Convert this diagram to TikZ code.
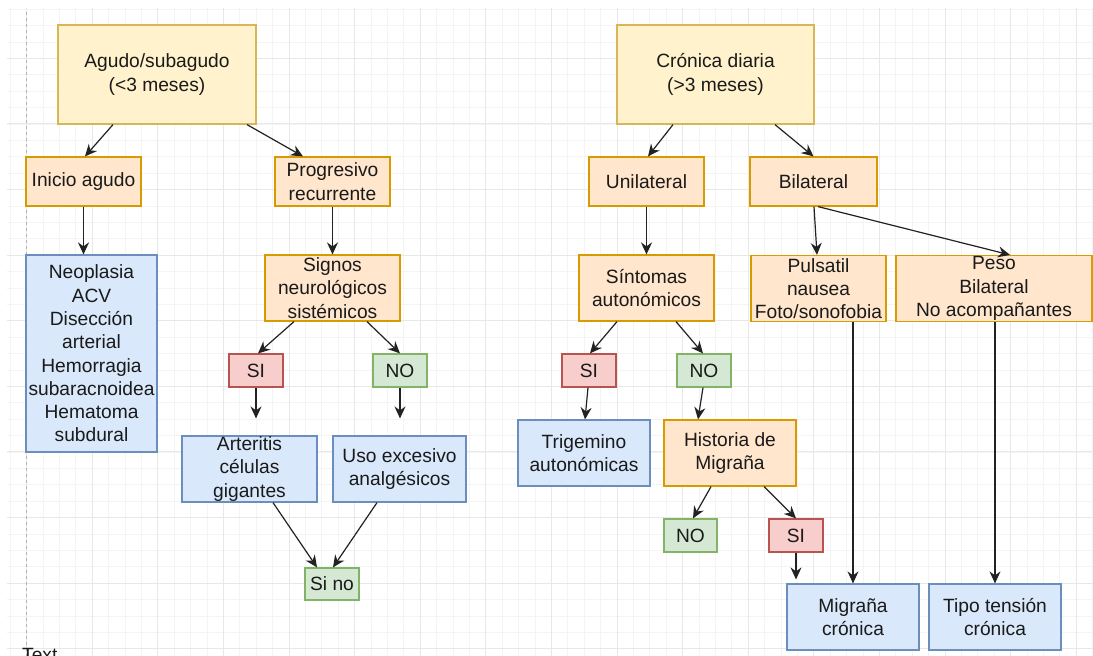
\documentclass[tikz,border=0pt]{standalone}
\usepackage{fontspec}
\setmainfont{Liberation Sans}
\usetikzlibrary{arrows.meta}
\definecolor{yfill}{HTML}{FFF2CC}\definecolor{ystroke}{HTML}{D6B656}
\definecolor{ofill}{HTML}{FFE6CC}\definecolor{ostroke}{HTML}{D79B00}
\definecolor{bfill}{HTML}{DAE8FC}\definecolor{bstroke}{HTML}{6C8EBF}
\definecolor{rfill}{HTML}{F8CECC}\definecolor{rstroke}{HTML}{B85450}
\definecolor{gfill}{HTML}{D5E8D4}\definecolor{gstroke}{HTML}{82B366}
\definecolor{txtc}{HTML}{1A1A1A}
\definecolor{linec}{HTML}{222222}
\definecolor{gminor}{HTML}{F4F4F4}
\definecolor{gmajor}{HTML}{E8E8E8}
\tikzset{
  box/.style={draw, line width=1.2pt, inner sep=0pt, rectangle},
  yel/.style={box, fill=yfill, draw=ystroke},
  ora/.style={box, fill=ofill, draw=ostroke},
  blu/.style={box, fill=bfill, draw=bstroke},
  red/.style={box, fill=rfill, draw=rstroke},
  grn/.style={box, fill=gfill, draw=gstroke},
  txt/.style={font=\fontsize{19.2}{23.3}\selectfont, text=txtc, align=center, inner sep=0pt},
  conn/.style={-{Stealth[length=12pt,width=11pt,inset=4pt]}, line width=1.2pt, draw=linec},
  gridminor/.style={draw=gminor, line width=0.8pt},
  gridmajor/.style={draw=gmajor, line width=0.9pt},
}
\newcommand\bx[7]{%
  \node[#2, minimum width=#5pt, minimum height=#6pt] (#1) at (#3,#4) {};
  \node[txt] (#1t) at (#1.center) {#7};}
\begin{document}
\begin{tikzpicture}[x=1pt,y=-1pt]
\useasboundingbox (0,0) rectangle (1093,656);
\fill[white] (0,0) rectangle (1093,656);
\begin{scope}
\clip (7,8) rectangle (1093,656);
\foreach \i in {-1,...,66} {\draw[gridminor] ({26.6+16.4*\i},8) -- ({26.6+16.4*\i},656);}
\foreach \j in {-3,...,36} {\draw[gridminor] (7,{58.3+16.4*\j}) -- (1093,{58.3+16.4*\j});}
\foreach \i in {0,...,16} {\draw[gridmajor] ({26.6+65.6*\i},8) -- ({26.6+65.6*\i},656);}
\foreach \j in {0,...,9} {\draw[gridmajor] (7,{58.3+65.6*\j}) -- (1093,{58.3+65.6*\j});}
\end{scope}
\draw[dashed, draw=gray!60, line width=0.8pt] (26.6,12) -- (26.6,656);

% left tree
\bx{agudo}{yel}{157}{74.5}{198}{99}{Agudo/subagudo\\(<3 meses)}
\bx{inicio}{ora}{83.5}{181.5}{115}{49}{Inicio agudo}
\bx{prog}{ora}{332.5}{181.5}{115}{49}{Progresivo\\recurrente}
\bx{neo}{blu}{91.5}{353.5}{131}{197}{Neoplasia\\ACV\\Disección\\arterial\\Hemorragia\\subaracnoidea\\Hematoma\\subdural}
\bx{signos}{ora}{332.5}{288}{135}{66}{Signos\\neurológicos\\sistémicos}
\bx{si1}{red}{256}{370.5}{54}{33}{SI}
\bx{no1}{grn}{400}{370.5}{54}{33}{NO}
\bx{art}{blu}{249.5}{469}{135}{66}{Arteritis\\células\\gigantes}
\bx{uso}{blu}{399.5}{469}{133}{66}{Uso excesivo\\analgésicos}
\bx{sino}{grn}{332}{584}{54}{32}{Si no}

% right tree
\bx{cron}{yel}{715.5}{74.5}{197}{99}{Crónica diaria\\(>3 meses)}
\bx{uni}{ora}{646.5}{181.5}{115}{49}{Unilateral}
\bx{bil}{ora}{813.5}{181.5}{127}{49}{Bilateral}
\bx{sint}{ora}{646.5}{288}{135}{66}{Síntomas\\autonómicos}
\bx{puls}{ora}{818.5}{288.5}{135}{66}{Pulsatil\\nausea\\Foto/sonofobia}
\bx{peso}{ora}{994}{288.5}{196}{66}{Peso\\Bilateral\\No acompañantes}
\bx{si2}{red}{589}{370.5}{54}{33}{SI}
\bx{no2}{grn}{704}{370.5}{54}{33}{NO}
\bx{tri}{blu}{584}{453}{132}{66}{Trigemino\\autonómicas}
\bx{hist}{ora}{730}{453}{132}{66}{Historia de\\Migraña}
\bx{no3}{grn}{690.5}{535.5}{53}{33}{NO}
\bx{si3}{red}{796}{535.5}{54}{33}{SI}
\bx{mig}{blu}{853}{617}{132}{66}{Migraña\\crónica}
\bx{tipo}{blu}{995}{617}{132}{66}{Tipo tensión\\crónica}

% free ends
\path (si1.south |- art.north) ++(0,-17) coordinate (si1end);
\path (no1.south |- uso.north) ++(0,-17) coordinate (no1end);
\path (si3.south |- mig.north) ++(0,-4) coordinate (si3end);

% connectors left
\draw[conn] ([xshift=-44pt]agudo.south) -- ([xshift=1.5pt]inicio.north);
\draw[conn] ([xshift=90pt]agudo.south) -- ([xshift=-29.5pt]prog.north);
\draw[conn] (inicio.south) -- (inicio.south |- neo.north);
\draw[conn] (prog.south) -- (signos.north);
\draw[conn] ([xshift=-38.5pt]signos.south) -- ([xshift=2pt]si1.north);
\draw[conn] ([xshift=34.5pt]signos.south) -- (no1.north);
\draw[conn] (si1.south) -- (si1end);
\draw[conn] (no1.south) -- (no1end);
\draw[conn] ([xshift=23.5pt]art.south) -- ([xshift=-15pt]sino.north);
\draw[conn] ([xshift=-22.5pt]uso.south) -- ([xshift=1pt]sino.north);

% connectors right
\draw[conn] ([xshift=-42.5pt]cron.south) -- ([xshift=1.5pt]uni.north);
\draw[conn] ([xshift=59.5pt]cron.south) -- (bil.north);
\draw[conn] (uni.south) -- (sint.north);
\draw[conn] ([xshift=0.5pt]bil.south) -- ([xshift=-1.5pt]puls.north);
\draw[conn] ([xshift=4.5pt]bil.south) -- ([xshift=16pt]peso.north);
\draw[conn] ([xshift=-29.5pt]sint.south) -- ([xshift=1pt]si2.north);
\draw[conn] ([xshift=29.5pt]sint.south) -- ([xshift=-1pt]no2.north);
\draw[conn] ([xshift=-1pt]si2.south) -- ([xshift=1pt]tri.north);
\draw[conn] ([xshift=-1pt]no2.south) -- ([xshift=-32pt]hist.north);
\draw[conn] ([xshift=-19pt]hist.south) -- ([xshift=2.5pt]no3.north);
\draw[conn] ([xshift=34pt]hist.south) -- (si3.north);
\draw[conn] (si3.south) -- (si3end);
\draw[conn] (mig.north |- puls.south) -- (mig.north);
\draw[conn] (tipo.north |- peso.south) -- (tipo.north);

\begin{scope}
\clip (0,0) rectangle (1093,656);
\node[txt, anchor=north west] (lbl) at (22,648) {Text};
\end{scope}
\end{tikzpicture}
\end{document}
